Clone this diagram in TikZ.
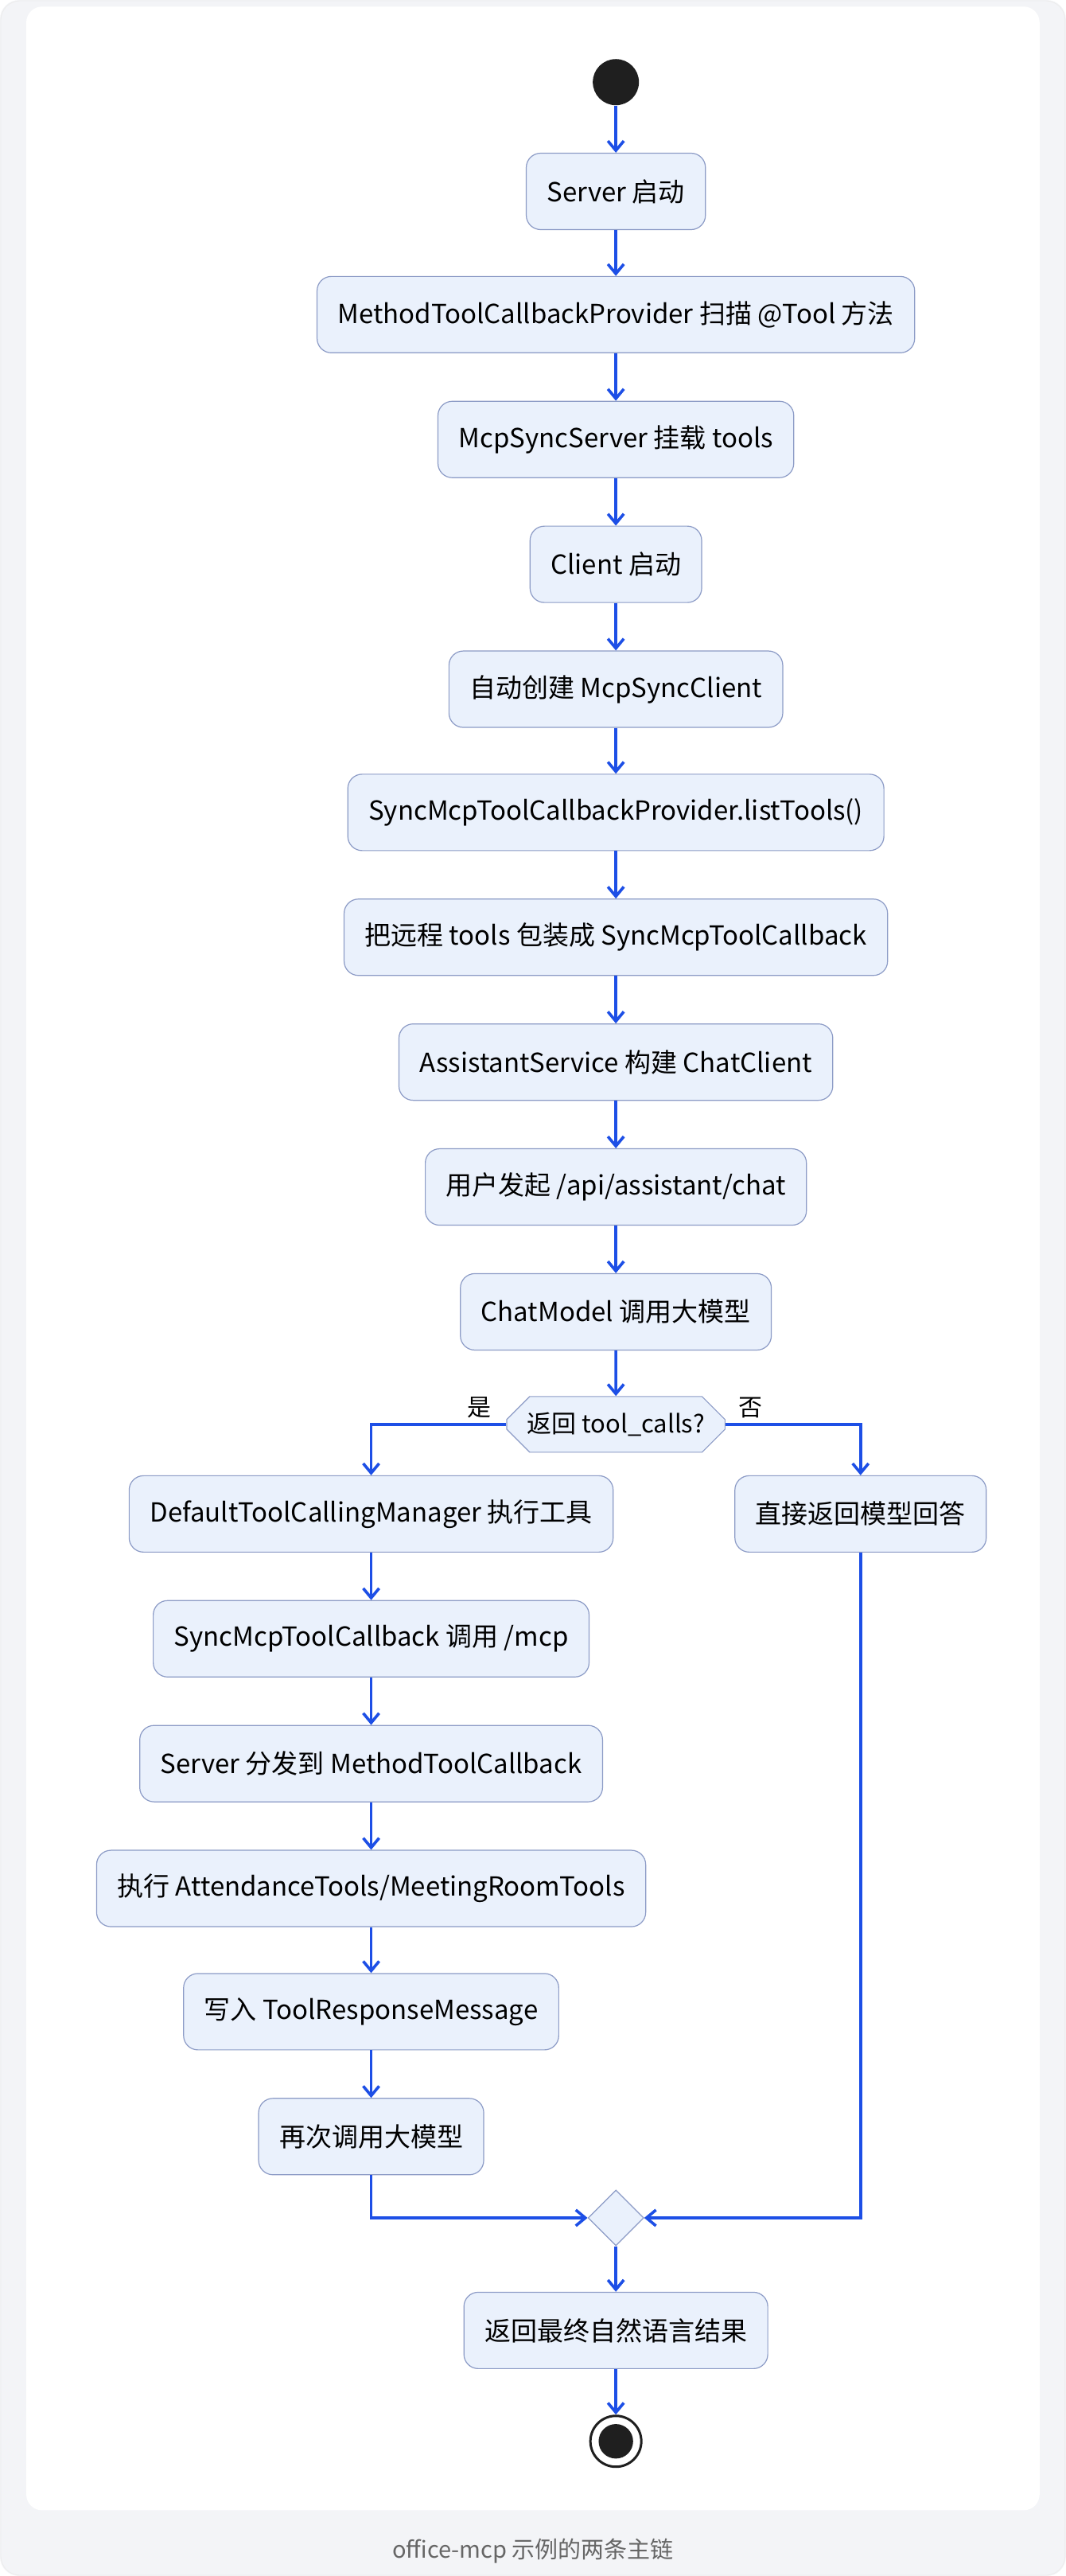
\documentclass[tikz,border=0pt]{standalone}
\usepackage{fontspec}
\setmainfont{Noto Sans CJK SC}
\usetikzlibrary{arrows.meta,shapes.geometric,shapes.misc}
\definecolor{nfill}{HTML}{EAF1FC}
\definecolor{nline}{HTML}{8C9BC6}
\definecolor{arr}{HTML}{1D4FE6}
\definecolor{bg}{HTML}{F3F4F7}
\begin{document}
\begin{tikzpicture}[x=1.0324pt,y=-1.0324pt,
  box/.style={draw=nline,fill=nfill,rounded corners=9pt,minimum height=48pt,inner xsep=13pt,font=\fontsize{16.5}{19}\selectfont,line width=0.6pt},
  ar/.style={draw=arr,line width=1.8pt,-{Straight Barb[length=6pt,width=10pt,line width=1.8pt]}},
  ln/.style={draw=arr,line width=1.8pt}]
\useasboundingbox (0,0) rectangle (649,1568);
\fill[bg,rounded corners=12pt] (0,0) rectangle (649,1568);
\draw[white!85!gray,rounded corners=12pt] (0.5,0.5) rectangle (648.5,1567.5);
\fill[white,rounded corners=10pt] (16,4) rectangle (633,1528);
\node[font=\fontsize{14.5}{17}\selectfont,text=black!60] (cap) at (324.5,1553) {office-mcp 示例的两条主链};

\node[circle,fill=black!88,minimum size=29pt,inner sep=0] (s) at (375,50) {};
\node[box] (n1) at (375,116.5) {Server 启动};
\node[box] (n2) at (375,191.5) {MethodToolCallbackProvider 扫描 @Tool 方法};
\node[box] (n3) at (375,267.5) {McpSyncServer 挂载 tools};
\node[box] (n4) at (375,343.5) {Client 启动};
\node[box] (n5) at (375,419.5) {自动创建 McpSyncClient};
\node[box] (n6) at (375,494.5) {SyncMcpToolCallbackProvider.listTools()};
\node[box] (n7) at (375,570.5) {把远程 tools 包装成 SyncMcpToolCallback};
\node[box] (n8) at (375,646.5) {AssistantService 构建 ChatClient};
\node[box] (n9) at (375,722.5) {用户发起 /api/assistant/chat};
\node[box] (n10) at (375,798.5) {ChatModel 调用大模型};
\node[draw=nline,fill=nfill,chamfered rectangle,chamfered rectangle xsep=16pt,chamfered rectangle angle=45,inner xsep=2pt,minimum height=35pt,font=\fontsize{15.5}{18}\selectfont,line width=0.6pt] (d) at (375,867) {返回 tool\_calls?};
\node[box] (l1) at (226,921.5) {DefaultToolCallingManager 执行工具};
\node[box] (r1) at (524,921.5) {直接返回模型回答};
\node[box] (l2) at (226,997.5) {SyncMcpToolCallback 调用 /mcp};
\node[box] (l3) at (226,1073.5) {Server 分发到 MethodToolCallback};
\node[box] (l4) at (226,1149.5) {执行 AttendanceTools/MeetingRoomTools};
\node[box] (l5) at (226,1224.5) {写入 ToolResponseMessage};
\node[box] (l6) at (226,1300.5) {再次调用大模型};
\node[diamond,draw=nline,fill=nfill,minimum size=35pt,inner sep=0,line width=0.6pt] (m) at (375,1350) {};
\node[box] (f) at (375,1418.5) {返回最终自然语言结果};
\node[circle,draw=black!88,line width=1.5pt,minimum size=32pt,inner sep=0] (e) at (375,1486) {};
\fill[black!88] (e) circle (10.5);

\node[font=\fontsize{15}{17}\selectfont] (y) at (292,857) {是};
\node[font=\fontsize{15}{17}\selectfont] (no) at (457,857) {否};

\draw[ar] (s) -- (n1);
\draw[ar] (n1) -- (n2);
\draw[ar] (n2) -- (n3);
\draw[ar] (n3) -- (n4);
\draw[ar] (n4) -- (n5);
\draw[ar] (n5) -- (n6);
\draw[ar] (n6) -- (n7);
\draw[ar] (n7) -- (n8);
\draw[ar] (n8) -- (n9);
\draw[ar] (n9) -- (n10);
\draw[ar] (n10) -- (d);
\draw[ar] (d.west) -| (l1.north);
\draw[ar] (d.east) -| (r1.north);
\draw[ar] (l1) -- (l2);
\draw[ar] (l2) -- (l3);
\draw[ar] (l3) -- (l4);
\draw[ar] (l4) -- (l5);
\draw[ar] (l5) -- (l6);
\draw[ar] (l6.south) |- (m.west);
\draw[ar] (r1.south) |- (m.east);
\draw[ar] (m) -- (f);
\draw[ar] (f) -- (e);
\end{tikzpicture}
\end{document}
